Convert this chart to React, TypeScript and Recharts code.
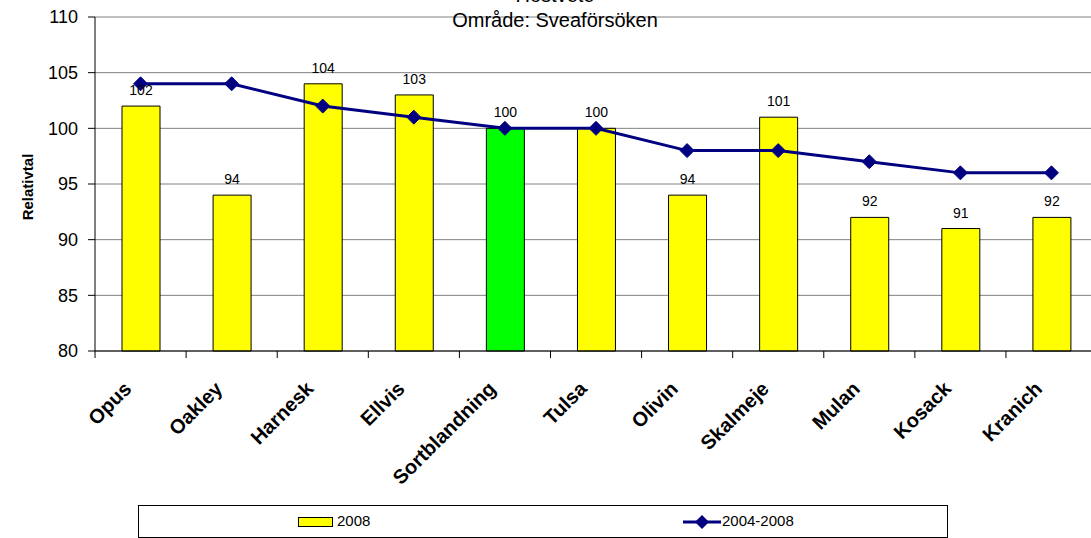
import React from 'react';
import { ComposedChart, Bar, Line, XAxis, YAxis, CartesianGrid, Cell, LabelList } from 'recharts';

const categories = ['Opus', 'Oakley', 'Harnesk', 'Ellvis', 'Sortblandning', 'Tulsa', 'Olivin', 'Skalmeje', 'Mulan', 'Kosack', 'Kranich'];
const values2008 = [102, 94, 104, 103, 100, 100, 94, 101, 92, 91, 92];
const values0408 = [104, 104, 102, 101, 100, 100, 98, 98, 97, 96, 96];
const yTicks = [80, 85, 90, 95, 100, 105, 110];
const highlight = 'Sortblandning';

const data = categories.map((name, i) => ({ name, v2008: values2008[i], v0408: values0408[i] }));

const FONT = '"Liberation Sans", Arial, sans-serif';

const Diamond = (props: any) => {
  const { cx, cy } = props;
  if (cx == null || cy == null) return null;
  return <polygon points={`${cx - 7},${cy} ${cx},${cy - 7} ${cx + 7},${cy} ${cx},${cy + 7}`} fill="#000080" stroke="#000080" />;
};

const XTick = (props: any) => {
  const { x, y, payload } = props;
  const half = 45.5;
  const ax = x - 8;
  const ay = y + 31;
  return (
    <g>
      <line x1={x - half} y1={y - 8} x2={x - half} y2={y - 1} stroke="#000" />
      <text
        x={ax}
        y={ay}
        transform={`rotate(-45, ${ax}, ${ay})`}
        textAnchor="end"
        fontFamily={FONT}
        fontWeight="bold"
        fontSize={20}
        fill="#000"
      >
        {payload.value}
      </text>
    </g>
  );
};

export default function App() {
  return (
    <div style={{ position: 'absolute', left: 0, top: 0, width: 1091, height: 538, overflow: 'hidden', background: '#fff', fontFamily: FONT }}>
      <ComposedChart width={1100} height={538} data={data} margin={{ top: 17, right: 3, left: 0, bottom: 0 }}>
        <CartesianGrid horizontal vertical={false} stroke="#808080" />
        <XAxis dataKey="name" interval={0} tickLine={false} axisLine={{ stroke: '#000' }} height={187} tick={<XTick />} />
        <YAxis
          width={95}
          domain={[80, 110]}
          ticks={yTicks}
          tickSize={7}
          tickMargin={10}
          axisLine={{ stroke: '#000' }}
          tickLine={{ stroke: '#000' }}
          tick={{ fill: '#000', fontSize: 18, fontFamily: FONT }}
        />
        <Bar dataKey="v2008" fill="#FFFF00" stroke="#000" strokeWidth={1} barSize={38} isAnimationActive={false}>
          {data.map((d) => (
            <Cell key={d.name} fill={d.name === highlight ? '#00FF00' : '#FFFF00'} />
          ))}
          <LabelList dataKey="v2008" position="top" offset={11} fill="#000" fontSize={14} fontFamily={FONT} />
        </Bar>
        <Line dataKey="v0408" stroke="#000080" strokeWidth={3} dot={<Diamond />} activeDot={false} isAnimationActive={false} />
      </ComposedChart>

      <div style={{ position: 'absolute', left: 0, width: 1110, top: -16, textAlign: 'center', fontSize: 20, lineHeight: '22px', color: '#000' }}>
        Höstvete
      </div>
      <div style={{ position: 'absolute', left: 0, width: 1110, top: 9, textAlign: 'center', fontSize: 20, lineHeight: '22px', color: '#000' }}>
        Område: Sveaförsöken
      </div>

      <div style={{ position: 'absolute', left: 27, top: 187, transform: 'translate(-50%, -50%) rotate(-90deg)', fontSize: 15, fontWeight: 'bold', whiteSpace: 'nowrap' }}>
        Relativtal
      </div>

      <div style={{ position: 'absolute', left: 138, top: 505, width: 808, height: 31, border: '1px solid #000', boxSizing: 'content-box' }}>
        <div style={{ position: 'absolute', left: 159, top: 11, width: 33, height: 8, background: '#FFFF00', border: '1px solid #000' }} />
        <div style={{ position: 'absolute', left: 198, top: 6, fontSize: 15 }}>2008</div>
        <svg style={{ position: 'absolute', left: 544, top: 7 }} width={38} height={18}>
          <line x1={0} y1={9} x2={38} y2={9} stroke="#000080" strokeWidth={3} />
          <polygon points="12,9 19,2 26,9 19,16" fill="#000080" />
        </svg>
        <div style={{ position: 'absolute', left: 583, top: 6, fontSize: 15 }}>2004-2008</div>
      </div>
    </div>
  );
}
